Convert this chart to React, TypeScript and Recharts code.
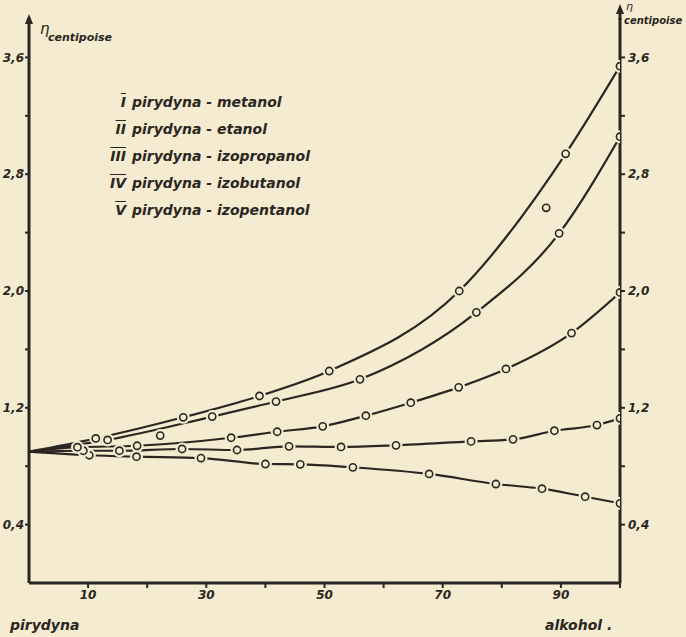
import React from "react";
import { ComposedChart, Line, Scatter, XAxis, YAxis, Legend } from "recharts";

const BG = "#f4ebd1";
const INK = "#2b2621";
const HAND = "'DejaVu Sans', sans-serif";

const X_TICKS = [10, 20, 30, 40, 50, 60, 70, 80, 90, 100];
const X_LABELS = [10, 30, 50, 70, 90];
const ETA_TICKS = [0.4, 0.8, 1.2, 1.6, 2.0, 2.4, 2.8, 3.2, 3.6];
const ETA_LABELS = [0.4, 1.2, 2.0, 2.8, 3.6];

// pure pyridine, all curves start here (no circle drawn)
const PYRIDINE_ETA = 0.9;

// measured points: x = % alcohol, eta = viscosity in cP
const metanol = [
  { x: 10.2, eta: 0.875 }, { x: 18.2, eta: 0.865 }, { x: 29.1, eta: 0.856 },
  { x: 40.0, eta: 0.815 }, { x: 45.9, eta: 0.813 }, { x: 54.8, eta: 0.792 },
  { x: 67.7, eta: 0.747 }, { x: 79.0, eta: 0.678 }, { x: 86.8, eta: 0.646 },
  { x: 94.1, eta: 0.591 }, { x: 100, eta: 0.546 },
];
const etanol = [
  { x: 9.2, eta: 0.906 }, { x: 15.3, eta: 0.906 }, { x: 25.9, eta: 0.918 },
  { x: 35.2, eta: 0.911 }, { x: 44.0, eta: 0.936 }, { x: 52.8, eta: 0.932 },
  { x: 62.1, eta: 0.943 }, { x: 74.8, eta: 0.97 }, { x: 81.9, eta: 0.984 },
  { x: 88.9, eta: 1.043 }, { x: 96.1, eta: 1.082 }, { x: 100, eta: 1.128 },
];
const izopropanol = [
  { x: 8.2, eta: 0.93 }, { x: 18.3, eta: 0.94 }, { x: 34.2, eta: 0.995 },
  { x: 42.0, eta: 1.036 }, { x: 49.7, eta: 1.073 }, { x: 57.0, eta: 1.146 },
  { x: 64.6, eta: 1.235 }, { x: 72.7, eta: 1.34 }, { x: 80.7, eta: 1.466 },
  { x: 91.8, eta: 1.712 }, { x: 100, eta: 1.99 },
];
const izobutanol = [
  { x: 13.3, eta: 0.98 }, { x: 22.2, eta: 1.01, off: true }, { x: 31.0, eta: 1.14 },
  { x: 41.8, eta: 1.243 }, { x: 56.0, eta: 1.395 }, { x: 75.7, eta: 1.854 },
  { x: 89.7, eta: 2.395 }, { x: 100, eta: 3.057 },
];
const izopentanol = [
  { x: 11.3, eta: 0.99 }, { x: 26.1, eta: 1.135 }, { x: 39.0, eta: 1.281 },
  { x: 50.8, eta: 1.452 }, { x: 72.8, eta: 2.0 }, { x: 87.5, eta: 2.57, off: true },
  { x: 90.8, eta: 2.94 }, { x: 100, eta: 3.54 },
];

const SERIES = [
  { roman: "I", name: "pirydyna - metanol", points: metanol },
  { roman: "II", name: "pirydyna - etanol", points: etanol },
  { roman: "III", name: "pirydyna - izopropanol", points: izopropanol },
  { roman: "IV", name: "pirydyna - izobutanol", points: izobutanol },
  { roman: "V", name: "pirydyna - izopentanol", points: izopentanol },
];

const tickFont = { fill: INK, fontSize: 12, fontStyle: "italic", fontWeight: 700, fontFamily: HAND };

const fmtEta = (v: number) =>
  ETA_LABELS.some((l) => Math.round(l * 10) === Math.round(v * 10))
    ? v.toFixed(1).replace(".", ",")
    : "";

const OpenCircle = (props: any) => {
  const { cx, cy } = props;
  if (cx == null || cy == null) return null;
  return (
    <g>
      <circle cx={cx} cy={cy} r={6.5} fill={BG} />
      <circle cx={cx} cy={cy} r={3.6} fill={BG} stroke={INK} strokeWidth={1.6} />
    </g>
  );
};

const LeftTitle = (props: any) => {
  const { x, y, width } = props.viewBox;
  const ax = x + width;
  return (
    <g>
      <path d={`M${ax - 4},${y + 6} L${ax},${y - 4} L${ax + 4},${y + 6} Z`} fill={INK} />
      <text x={ax + 11} y={y + 16} fill={INK} fontSize={15} fontStyle="italic" fontFamily={HAND}>η</text>
      <text x={ax + 19} y={y + 23} fill={INK} fontSize={11} fontStyle="italic" fontWeight={700} fontFamily={HAND}>
        centipoise
      </text>
    </g>
  );
};

const RightTitle = (props: any) => {
  const { x, y } = props.viewBox;
  return (
    <g>
      <line x1={x} y1={y + 2} x2={x} y2={y - 8} stroke={INK} strokeWidth={3} />
      <path d={`M${x - 4},${y - 4} L${x},${y - 14} L${x + 4},${y - 4} Z`} fill={INK} />
      <text x={x + 6} y={y - 8} fill={INK} fontSize={11} fontStyle="italic" fontFamily={HAND}>η</text>
      <text x={x + 4} y={y + 6} fill={INK} fontSize={10} fontStyle="italic" fontWeight={700} fontFamily={HAND}>
        centipoise
      </text>
    </g>
  );
};

const LegendBox = () => (
  <div style={{ fontFamily: HAND, fontStyle: "italic", fontWeight: 700, fontSize: 14, color: INK, lineHeight: "27px" }}>
    {SERIES.map((s) => (
      <div key={s.roman} style={{ whiteSpace: "nowrap" }}>
        <span style={{ display: "inline-block", width: 20, textAlign: "right", marginRight: 6, textDecoration: "overline" }}>
          {s.roman}
        </span>
        {s.name}
      </div>
    ))}
  </div>
);

export default function App() {
  return (
    <div style={{ position: "relative", width: 686, height: 637, background: BG, overflow: "hidden" }}>
      <style>{`body{margin:0;background:${BG};}`}</style>
      <ComposedChart width={686} height={637} margin={{ top: 18, right: 0, bottom: 24, left: 0 }}>
        <XAxis
          type="number"
          dataKey="x"
          domain={[0, 100]}
          ticks={X_TICKS}
          tickFormatter={(v: number) => (X_LABELS.includes(v) ? String(v) : "")}
          height={30}
          axisLine={{ stroke: INK, strokeWidth: 3 }}
          tickLine={{ stroke: INK, strokeWidth: 2 }}
          tickSize={5}
          tick={tickFont}
          allowDataOverflow
        />
        <YAxis
          yAxisId="left"
          type="number"
          domain={[0, 3.87]}
          ticks={ETA_TICKS}
          tickFormatter={fmtEta}
          width={29}
          axisLine={{ stroke: INK, strokeWidth: 3 }}
          tickLine={{ stroke: INK, strokeWidth: 2 }}
          tickSize={4}
          tickMargin={1}
          tick={tickFont}
          allowDataOverflow
          label={{ content: LeftTitle }}
        />
        <YAxis
          yAxisId="right"
          orientation="right"
          type="number"
          domain={[0, 3.87]}
          ticks={ETA_TICKS}
          tickFormatter={fmtEta}
          width={66}
          axisLine={{ stroke: INK, strokeWidth: 3 }}
          tickLine={{ stroke: INK, strokeWidth: 2 }}
          tickSize={5}
          tickMargin={3}
          tick={tickFont}
          allowDataOverflow
          label={{ content: RightTitle }}
        />
        <Legend
          layout="vertical"
          align="center"
          verticalAlign="middle"
          content={LegendBox}
          wrapperStyle={{ top: 89, left: 106, width: 260 }}
        />
        {SERIES.map((s) => (
          <Line
            key={"l" + s.roman}
            yAxisId="left"
            name={s.name}
            data={[{ x: 0, eta: PYRIDINE_ETA }, ...s.points.filter((p: any) => !p.off)]}
            dataKey="eta"
            type="monotone"
            stroke={INK}
            strokeWidth={2.2}
            dot={false}
            activeDot={false}
            isAnimationActive={false}
          />
        ))}
        {SERIES.map((s) => (
          <Scatter
            key={"s" + s.roman}
            yAxisId="left"
            name={s.name}
            data={s.points}
            dataKey="eta"
            shape={OpenCircle}
            legendType="none"
            isAnimationActive={false}
          />
        ))}
      </ComposedChart>
      <div style={{ position: "absolute", left: 10, top: 617, fontFamily: HAND, fontStyle: "italic", fontWeight: 700, fontSize: 14, color: INK }}>
        pirydyna
      </div>
      <div style={{ position: "absolute", left: 545, top: 617, fontFamily: HAND, fontStyle: "italic", fontWeight: 700, fontSize: 14, color: INK }}>
        alkohol .
      </div>
    </div>
  );
}
